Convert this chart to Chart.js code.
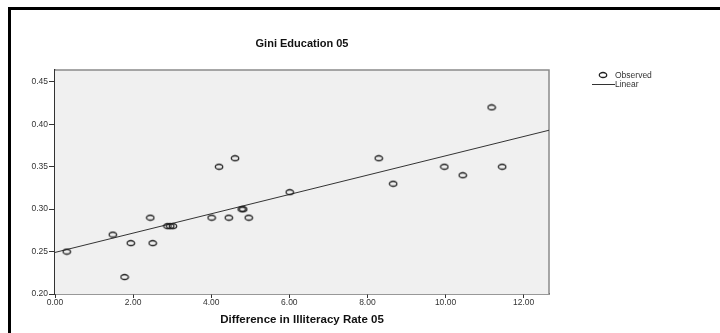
<!DOCTYPE html>
<html>
<head>
<meta charset="utf-8">
<script src="https://cdn.jsdelivr.net/npm/chart.js@4/dist/chart.umd.min.js"></script>
<style>
  body { margin: 0; background: #fff; }
  #wrap { position: relative; width: 720px; height: 333px; overflow: hidden; }
  #frame { position: absolute; left: 8px; top: 7px; width: 720px; height: 340px;
           border-left: 3px solid #000; border-top: 3px solid #000; pointer-events: none; }
  canvas { position: absolute; left: 0; top: 0; }
</style>
</head>
<body>
<div id="wrap">
  <canvas id="chartScatter" width="720" height="333"></canvas>
  <div id="frame"></div>
</div>
<script>
const illiteracyDiff = [0.30, 1.48, 1.78, 1.94, 2.44, 2.50, 2.88, 2.95, 3.02, 4.01, 4.20, 4.45, 4.61, 4.78, 4.82, 4.96, 6.01, 8.29, 8.66, 9.97, 10.44, 11.18, 11.45];
const giniEducation = [0.25, 0.27, 0.22, 0.26, 0.29, 0.26, 0.28, 0.28, 0.28, 0.29, 0.35, 0.29, 0.36, 0.30, 0.30, 0.29, 0.32, 0.36, 0.33, 0.35, 0.34, 0.42, 0.35];

// fitted line end points
const fitX = [0, 12.65];
const fitY = [0.249, 0.393];

const xTicks = [0, 2, 4, 6, 8, 10, 12];
const yTicks = [0.20, 0.25, 0.30, 0.35, 0.40, 0.45];

const chartTitle = 'Gini Education 05';
const font = "'Liberation Sans', Arial, sans-serif";
const ink = '#333';

// open ellipse marker, like the SPSS one
function makeMarker() {
    const c = document.createElement('canvas');
    c.width = 10; c.height = 8;
    const g = c.getContext('2d');
    g.strokeStyle = '#222';
    g.lineWidth = 1.3;
    g.beginPath();
    g.ellipse(5, 4, 3.7, 2.5, 0, 0, Math.PI * 2);
    g.stroke();
    return c;
}
const marker = makeMarker();

const plotFrame = {
    id: 'plotFrame',
    beforeDatasetsDraw(chart) {
        const { ctx, chartArea: a } = chart;
        ctx.save();
        ctx.fillStyle = '#f0f0f0';
        ctx.fillRect(a.left, a.top, a.right - a.left, a.bottom - a.top);
        ctx.strokeStyle = '#8a8a8a';
        ctx.lineWidth = 1.5;
        ctx.beginPath();
        ctx.moveTo(a.left, a.top);
        ctx.lineTo(a.right, a.top);
        ctx.lineTo(a.right, a.bottom);
        ctx.stroke();
        ctx.restore();
    },
    afterDraw(chart) {
        const { ctx, chartArea: a } = chart;
        ctx.save();
        // title, centred over the plot
        ctx.fillStyle = '#111';
        ctx.font = 'bold 11px ' + font;
        ctx.textAlign = 'center';
        ctx.textBaseline = 'middle';
        ctx.fillText(chartTitle, (a.left + a.right) / 2, 44);
        // legend
        ctx.drawImage(marker, 598, 71);
        ctx.strokeStyle = ink;
        ctx.lineWidth = 1;
        ctx.beginPath();
        ctx.moveTo(592, 84.5);
        ctx.lineTo(615, 84.5);
        ctx.stroke();
        ctx.fillStyle = ink;
        ctx.font = '8.5px ' + font;
        ctx.textAlign = 'left';
        ctx.fillText(chart.data.datasets[0].label, 615, 75.5);
        ctx.fillText(chart.data.datasets[1].label, 615, 84.5);
        ctx.restore();
    }
};

const data = {
    datasets: [{
        label: 'Observed',
        data: illiteracyDiff.map((x, i) => ({ x: x, y: giniEducation[i] })),
        pointStyle: marker,
        pointRadius: 4,
        order: 1
    }, {
        label: 'Linear',
        type: 'line',
        data: fitX.map((x, i) => ({ x: x, y: fitY[i] })),
        borderColor: ink,
        borderWidth: 1,
        pointRadius: 0,
        order: 2
    }]
};

const configScatter = {
    type: 'scatter',
    data,
    plugins: [plotFrame],
    options: {
        responsive: false,
        animation: false,
        events: [],
        layout: { padding: { left: 0, top: 70, right: 171, bottom: 0 } },
        plugins: {
            legend: { display: false },
            tooltip: { enabled: false },
            title: { display: false }
        },
        scales: {
            x: {
                type: 'linear',
                min: 0,
                max: 12.65,
                afterBuildTicks: s => { s.ticks = xTicks.map(v => ({ value: v })); },
                afterFit: s => { s.height = 39; },
                grid: { drawOnChartArea: false, tickLength: 4, color: ink },
                border: { color: ink, width: 1.5 },
                ticks: {
                    color: ink, padding: 0,
                    font: { family: font, size: 8.5 },
                    callback: v => v.toFixed(2)
                },
                title: {
                    display: true,
                    text: 'Difference in Illiteracy Rate 05',
                    color: '#111',
                    font: { family: font, size: 11.5, weight: 'bold' },
                    padding: { top: 0, bottom: 6 }
                }
            },
            y: {
                type: 'linear',
                min: 0.20,
                max: 0.464,
                afterBuildTicks: s => { s.ticks = yTicks.map(v => ({ value: v })); },
                afterFit: s => { s.width = 55; },
                grid: { drawOnChartArea: false, tickLength: 6, color: ink },
                border: { color: ink, width: 1.5 },
                ticks: {
                    color: ink, padding: 1,
                    font: { family: font, size: 8.5 },
                    callback: v => v.toFixed(2)
                }
            }
        }
    }
};

var chartScatter = new Chart(
    document.getElementById('chartScatter'),
    configScatter
);
</script>
</body>
</html>
